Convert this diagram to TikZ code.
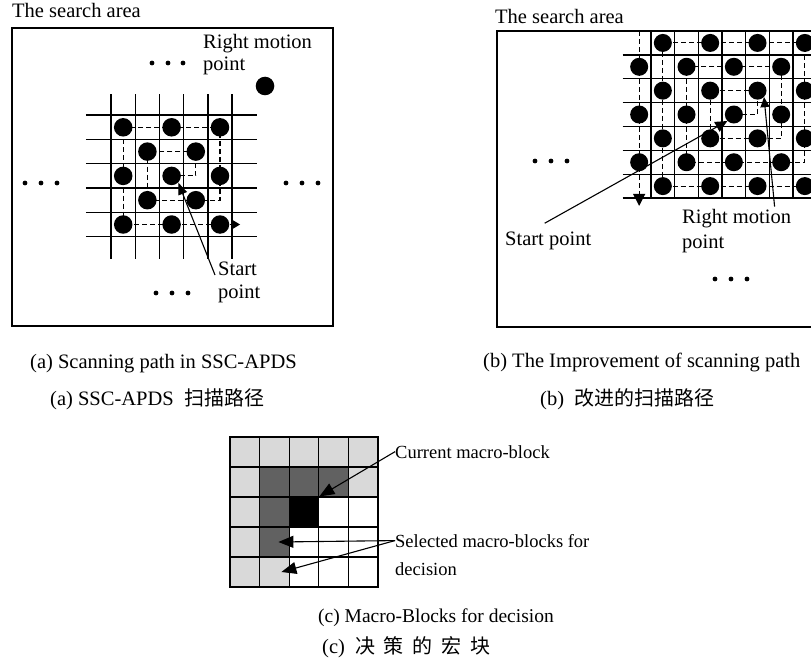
\documentclass[tikz,border=0pt]{standalone}
\usepackage{fontspec}
\setmainfont{Liberation Serif}
\newfontfamily\cjk{Noto Sans CJK SC}
\newfontfamily\cjkwider[LetterSpace=44]{Noto Sans CJK SC}
\usetikzlibrary{arrows.meta,positioning,calc}

\colorlet{mbLight}{black!15}
\colorlet{mbDark}{black!62}

\tikzset{
  frame/.style={draw, line width=1.1pt},
  gridline/.style={line width=1.3pt},
  scanpath/.style={line width=1.1pt, dash pattern=on 5pt off 3pt},
  spot/.style={circle, fill=black, inner sep=0pt, minimum size=18.5pt},
  pointer/.style={line width=1.1pt, -{Triangle[length=12pt,width=10pt]}},
  txt/.style={inner sep=0pt, font=\fontsize{20.5}{23}\selectfont},
  blk/.style={inner sep=0pt, font=\fontsize{18.5}{22}\selectfont},
  mblock/.style={draw, line width=1.2pt, inner sep=0pt, minimum width=29.6pt, minimum height=30pt},
}

\begin{document}
\begin{tikzpicture}[x=1pt,y=-1pt]
\useasboundingbox (0,0) rectangle (811,666);
\clip (0,0) rectangle (811,666);

% (a) scanning path in SSC-APDS
\draw[frame] (12,28) rectangle (333,326);
\node[txt, anchor=base west] (areaa) at (12,17.5) {The search area};
\begin{scope}[shift={(99,103)}, x=24.2pt, y=-24.3pt]
  \foreach \k in {0.5,1.5,...,5.5} {
    \draw[gridline] (-0.54,\k) -- (6.53,\k);
    \draw[gridline] (\k,-0.37) -- (\k,6.42);
  }
  \draw[scanpath, -{Triangle[length=7pt,width=8pt]}] (3,3) -- (4,3) -- (4,2) -- (2,2) -- (2,4)
    -- (5,4) -- (5,1) -- (1,1) -- (1,5) -- (5.83,5);
  \foreach \r in {1,...,5}
    \foreach \c in {1,...,5} {
      \pgfmathtruncatemacro{\odd}{mod(\r+\c,2)}
      \ifnum\odd=0 \node[spot] (a\r\c) at (\c,\r) {}; \fi
    }
\end{scope}
\node[spot, minimum size=18.6pt] (rmdot) at (265,86) {};
\node[txt, anchor=base west] (rma) at (203,48.5) {Right motion};
\node[txt, anchor=base west] (rmap) at ([yshift=-22.5pt]rma.base west) {point};
\foreach \x in {152,168,183} \fill (\x,63) circle (2.4);
\foreach \x in {25,41,57} \fill (\x,183) circle (2.4);
\foreach \x in {286,302,318} \fill (\x,183) circle (2.4);
\foreach \x in {156,172,188} \fill (\x,293) circle (2.4);
\node[txt, anchor=base west] (sa) at (218,275) {Start};
\node[txt, anchor=base west] (sap) at ([yshift=-23pt]sa.base west) {point};
\draw[pointer, -{Triangle[length=12pt,width=9pt]}] ([xshift=-3pt]sa.base west) -- (a33.south east);
\node[txt, anchor=base west] (capa) at (30,368.5) {(a) Scanning path in SSC-APDS};
\node[txt, anchor=base west] (capacn) at (50,405.5) {(a) SSC-APDS\enspace{\cjk\fontsize{20}{23}\selectfont 扫描路径}};

% (b) the improvement
\draw[frame] (497,31) rectangle (840,327);
\node[txt, anchor=base west] (areab) at (495,23.3) {The search area};
\begin{scope}[shift={(615.5,19.07)}, x=23.67pt, y=-23.86pt]
  \foreach \k in {1.5,2.5,...,7.5} \draw[gridline] (0.3,\k) -- (9.2,\k);
  \foreach \k in {1.5,2.5,...,8.5} \draw[gridline] (\k,0.5) -- (\k,7.5);
  \draw[scanpath] (5,4) -- (6,4) -- (6,3) -- (4,3) -- (4,5) -- (7,5) -- (7,2) -- (3,2)
    -- (3,6) -- (8,6) -- (8,1) -- (2,1) -- (2,7) -- (9.5,7);
  \draw[scanpath, -{Triangle[length=12pt,width=12pt]}] (1,0.5) -- (1,7.83);
  \foreach \r in {1,...,7}
    \foreach \c in {1,...,8} {
      \pgfmathtruncatemacro{\odd}{mod(\r+\c,2)}
      \ifnum\odd=1 \node[spot, minimum size=18pt] (b\r\c) at (\c,\r) {}; \fi
    }
\end{scope}
\foreach \x in {535,551,567} \fill (\x,161) circle (2.4);
\foreach \x in {715,731,747} \fill (\x,279) circle (2.4);
\node[txt, anchor=base west] (sb) at (505,245) {Start point};
\draw[pointer, -{Triangle[length=12pt,width=11pt]}] ($(sb.north)+(-3.5,-8)$) -- (b45.south west);
\node[txt, anchor=base west] (rmb) at (682,223) {Right motion};
\node[txt, anchor=base west] (rmbp) at ([yshift=-25pt]rmb.base west) {point};
\draw[pointer, -{Triangle[length=10pt,width=9pt]}] ($(rmb.north)+(38,-2)$) -- (b36.south east);
\node[txt, anchor=base west] (capb) at (483,367) {(b) The Improvement of scanning path};
\node[txt, anchor=base west] (capbcn) at (540,405.5) {(b)\enspace{\cjk\fontsize{20}{23}\selectfont 改进的扫描路径}};

% (c) macro-blocks for decision
\begin{scope}[shift={(215.2,422)}, x=29.6pt, y=-30pt]
  \foreach \r/\cols in {1/{mbLight,mbLight,mbLight,mbLight,mbLight},
                        2/{mbLight,mbDark,mbDark,mbDark,mbLight},
                        3/{mbLight,mbDark,black,white,white},
                        4/{mbLight,mbDark,white,white,white},
                        5/{mbLight,mbLight,white,white,white}}
    \foreach \fc [count=\c] in \cols
      \node[mblock, fill=\fc] (m\r\c) at (\c,\r) {};
\end{scope}
\node[blk, anchor=base west] (cur) at (395,458) {Current macro-block};
\node[blk, anchor=base west] (sel) at (395,547) {Selected macro-blocks for};
\node[blk, anchor=base west] (seld) at (395,575) {decision};
\draw[pointer, -{Triangle[length=15pt,width=12pt]}] (cur.west) -- (m33.north east);
\draw[pointer, -{Triangle[length=15pt,width=12pt]}] (sel.west) -- ([xshift=4pt]m42.center);
\draw[pointer, -{Triangle[length=15pt,width=12pt]}] (sel.west) -- ([xshift=7pt]m52.center);
\node[txt, font=\fontsize{19.5}{23}\selectfont, anchor=base west] (capc) at (318,622) {(c) Macro-Blocks for decision};
\node[txt, anchor=base west] (capccn) at (322,653) {(c)\enspace{\cjkwider\fontsize{20}{23}\selectfont 决策的宏块}};
\end{tikzpicture}
\end{document}
